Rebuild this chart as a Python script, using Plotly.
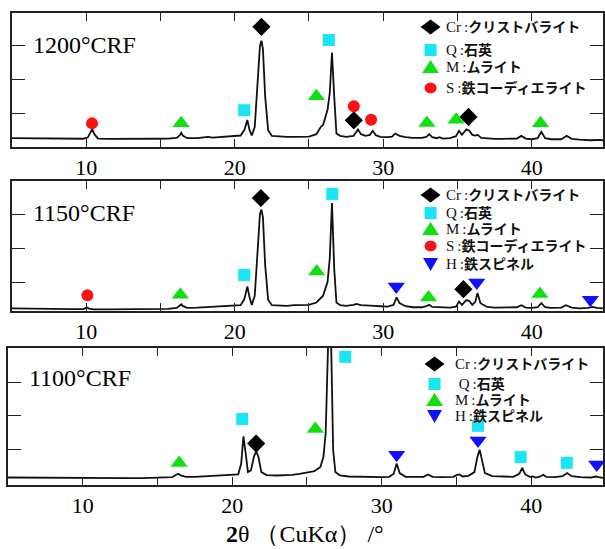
import plotly.graph_objects as go

# ---------------- data ----------------
# 2theta (deg) and intensity (arb. counts) for each firing temperature
tt_1200 = [5.0, 6, 7, 8, 9, 9.8, 10.1, 10.25, 10.4, 10.55, 10.8, 11.5, 12.5, 13.5, 14.5, 15.5,
           16.1, 16.3, 16.4, 16.5, 16.8, 17.5, 18.0, 18.2, 18.5, 19.0, 19.5, 20.0, 20.4, 20.65,
           20.85, 21.0, 21.15, 21.35, 21.55, 21.7, 21.8, 21.9, 22.05, 22.25, 22.5, 23.0, 23.5,
           24.0, 24.5, 25.0, 25.5, 25.8, 25.95, 26.1, 26.25, 26.4, 26.55, 26.7, 26.85, 27.1,
           27.5, 28.0, 28.15, 28.3, 28.5, 28.8, 29.1, 29.3, 29.5, 29.8, 30.3, 30.6, 30.8, 31.1,
           31.5, 32.0, 32.6, 32.9, 33.1, 33.3, 33.6, 33.8, 34.0, 34.5, 34.9, 35.1, 35.3, 35.45,
           35.6, 35.8, 36.0, 36.2, 36.35, 36.6, 37.0, 37.5, 38.0, 38.5, 39.0, 39.3, 39.6, 40.0,
           40.4, 40.65, 40.9, 41.3, 42.0, 42.35, 42.7, 43.2, 44.0, 44.5, 44.8]
i_1200 = [260, 255, 250, 245, 240, 245, 280, 400, 530, 380, 250, 240, 235, 240, 245, 250,
          270, 350, 420, 340, 260, 265, 280, 300, 280, 290, 300, 310, 340, 500,
          800, 500, 340, 600, 1800, 3000, 3150, 2900, 1500, 500, 330, 310, 300,
          300, 300, 310, 380, 600, 650, 900, 1100, 1600, 2800, 1500, 400, 330,
          300, 330, 420, 520, 380, 330, 360, 480, 350, 300, 290, 310, 400, 330,
          290, 270, 270, 300, 380, 290, 260, 290, 250, 260, 320, 480, 360, 430,
          520, 480, 360, 340, 360, 270, 250, 240, 240, 240, 250, 330, 250, 230,
          260, 450, 260, 230, 230, 330, 240, 220, 200, 210, 200]

tt_1150 = [5.0, 6, 7, 8, 9, 9.8, 10.05, 10.2, 10.5, 11.5, 12.5, 13.5, 14.5, 15.5, 16.1, 16.3,
           16.4, 16.5, 16.8, 17.5, 18.0, 18.5, 19.0, 19.5, 20.0, 20.4, 20.65, 20.85, 21.0,
           21.15, 21.35, 21.55, 21.7, 21.8, 21.9, 22.05, 22.25, 22.5, 23.0, 23.5, 24.0, 24.5,
           25.0, 25.5, 25.8, 25.95, 26.1, 26.25, 26.4, 26.55, 26.7, 26.85, 27.1, 27.5, 28.0,
           28.2, 28.5, 29.0, 29.4, 29.8, 30.3, 30.7, 30.9, 31.1, 31.5, 32.0, 32.6, 32.9, 33.1,
           33.3, 33.8, 34.5, 34.9, 35.1, 35.3, 35.45, 35.6, 35.8, 36.0, 36.2, 36.35, 36.55,
           37.0, 37.5, 38.0, 38.5, 39.0, 39.3, 39.6, 40.0, 40.4, 40.65, 40.9, 41.3, 42.0, 42.3,
           42.7, 43.2, 43.8, 44.1, 44.4, 44.8]
i_1150 = [230, 220, 215, 210, 205, 205, 250, 220, 200, 200, 200, 205, 210, 215, 240, 300,
          350, 300, 240, 250, 260, 270, 280, 290, 300, 320, 500, 870, 550,
          330, 600, 1800, 3000, 3130, 2900, 1500, 480, 320, 300, 300, 320, 320,
          330, 400, 550, 600, 800, 1000, 1700, 3320, 1400, 400, 320, 300, 330,
          360, 320, 300, 300, 290, 280, 330, 550, 380, 290, 260, 260, 290, 330,
          270, 260, 250, 280, 430, 330, 400, 470, 440, 330, 420, 680, 380,
          270, 250, 250, 250, 260, 320, 250, 240, 260, 380, 260, 240, 250, 320,
          250, 230, 240, 270, 240, 230]

tt_1100 = [5.0, 6, 7, 8, 9, 10, 11, 12, 13, 14, 15, 16.0, 16.25, 16.4, 16.55, 16.9, 17.5, 18.0,
           18.5, 19.0, 19.5, 20.0, 20.4, 20.6, 20.75, 20.9, 21.05, 21.25, 21.45, 21.6, 21.75,
           21.95, 22.3, 23.0, 23.5, 24.0, 24.5, 25.0, 25.5, 25.9, 26.1, 26.25, 26.4, 26.5, 26.6,
           26.75, 26.9, 27.2, 27.8, 28.5, 29.0, 29.5, 30.0, 30.5, 30.8, 31.0, 31.2, 31.6, 32.3,
           32.8, 33.1, 33.4, 34.0, 34.8, 35.0, 35.2, 35.4, 35.8, 36.2, 36.4, 36.55, 36.7, 36.9,
           37.4, 38.0, 38.8, 39.2, 39.4, 39.6, 39.9, 40.1, 40.3, 40.6, 40.8, 41.0, 41.6, 42.1,
           42.4, 42.7, 43.3, 44.0, 44.3, 44.5, 44.8]
i_1100 = [190, 185, 180, 175, 170, 165, 160, 165, 170, 175, 180, 200, 270, 300, 250, 210, 210, 220,
          230, 240, 250, 260, 280, 600, 1400, 900, 350, 400, 800, 960, 800,
          350, 260, 250, 250, 270, 300, 330, 380, 500, 800, 1500, 4500, 5500, 4500,
          1000, 350, 250, 220, 210, 200, 200, 200, 210, 300, 600, 320, 210, 200,
          210, 280, 210, 200, 210, 260, 280, 220, 240, 350, 800, 1010, 700, 320,
          230, 220, 210, 300, 470, 280, 210, 220, 190, 220, 270, 210, 200, 230,
          320, 230, 200, 190, 220, 200, 180]

# phase markers: (2theta, height)
cr_1200_x, cr_1200_y = [21.8, 28.02, 35.74], [3560, 790, 890]
q_1200_x, q_1200_y = [20.64, 26.34], [1090, 3170]
m_1200_x, m_1200_y = [16.39, 25.5, 32.94, 34.91, 40.59], [700, 1500, 710, 810, 700]
s_1200_x, s_1200_y = [10.39, 28.02, 29.18], [700, 1210, 810]

cr_1150_x, cr_1150_y = [21.76, 35.4], [3470, 790]
q_1150_x, q_1150_y = [20.64, 26.57], [1210, 3590]
m_1150_x, m_1150_y = [16.34, 25.52, 33.05, 40.55], [630, 1310, 550, 650]
s_1150_x, s_1150_y = [10.08], [610]
h_1150_x, h_1150_y = [30.88, 36.3, 43.95], [870, 990, 480]

cr_1100_x, cr_1100_y = [21.6], [1190]
q_1100_x, q_1100_y = [20.67, 27.56, 36.44, 39.29, 42.38], [1910, 3740, 1710, 790, 620]
m_1100_x, m_1100_y = [16.45, 25.56], [620, 1620]
h_1100_x, h_1100_y = [31.0, 36.44, 44.38], [860, 1280, 570]

sample_labels = ["1200\u00b0CRF", "1150\u00b0CRF", "1100\u00b0CRF"]
x_tickvals = [10, 15, 20, 25, 30, 35, 40]
x_ticktext = ["10", "", "20", "", "30", "", "40"]
y_tickvals = [1000, 2000, 3000]
x_title = "<b>2</b>\u03b8\u00a0\uff08CuK\u03b1\uff09\u00a0/\u00b0"

# legend entries: (symbol letter, Japanese phase name)
legend_1200 = [("Cr", "クリストバライト"), ("Q", "石英"), ("M", "ムライト"), ("S", "鉄コーディエライト")]
legend_1150 = [("Cr", "クリストバライト"), ("Q", "石英"), ("M", "ムライト"),
               ("S", "鉄コーディエライト"), ("H", "鉄スピネル")]
legend_1100 = [("Cr", "クリストバライト"), ("\u00a0Q", "石英"), ("M", "ムライト"), ("H", "鉄スピネル")]

# ---------------- styles ----------------
W, H = 605, 549
SERIF = "Liberation Serif, Times New Roman, serif"
LEGFONT = "Liberation Serif, Noto Sans CJK JP, serif"
phase_style = {
    "Cr": dict(symbol="diamond", color="black", size=14),
    "Q": dict(symbol="square", color="#19e6f5", size=12),
    "M": dict(symbol="triangle-up", color="#10e010", size=15),
    "S": dict(symbol="circle", color="#ff1010", size=12),
    "H": dict(symbol="triangle-down", color="#1010ff", size=15),
}
# legend symbol outlines in pixels (relative to the symbol centre, y up)
legend_paths = {
    "Cr": "M -10 0 L 0 7.5 L 10 0 L 0 -7.5 Z",
    "Q": "M -6 -6 L 6 -6 L 6 6 L -6 6 Z",
    "M": "M -8.5 -6 L 8.5 -6 L 0 7 Z",
    "S": "M -6 0 C -6 7 6 7 6 0 C 6 -7 -6 -7 -6 0 Z",
    "H": "M -7.5 6 L 7.5 6 L 0 -7 Z",
}

fig = go.Figure()

panels = [
    dict(tt=tt_1200, it=i_1200, label=sample_labels[0],
         marks=[("Cr", cr_1200_x, cr_1200_y), ("Q", q_1200_x, q_1200_y),
                ("M", m_1200_x, m_1200_y), ("S", s_1200_x, s_1200_y)],
         legend=legend_1200, leg_keys=["Cr", "Q", "M", "S"], leg_rows=[27, 50, 67, 88],
         leg_mx=432, leg_tx=446,
         xdom=[12 / W, 1.0], ydom=[1 - 147 / H, 1 - 13 / H], yr=[0, 3970],
         label_xy=(31, 45)),
    dict(tt=tt_1150, it=i_1150, label=sample_labels[1],
         marks=[("Cr", cr_1150_x, cr_1150_y), ("Q", q_1150_x, q_1150_y),
                ("M", m_1150_x, m_1150_y), ("S", s_1150_x, s_1150_y), ("H", h_1150_x, h_1150_y)],
         legend=legend_1150, leg_keys=["Cr", "Q", "M", "S", "H"],
         leg_rows=[195, 213, 229, 246, 264], leg_mx=432, leg_tx=446,
         xdom=[12 / W, 1.0], ydom=[1 - 311 / H, 1 - 181 / H], yr=[150, 3970],
         label_xy=(31, 213)),
    dict(tt=tt_1100, it=i_1100, label=sample_labels[2],
         marks=[("Cr", cr_1100_x, cr_1100_y), ("Q", q_1100_x, q_1100_y),
                ("M", m_1100_x, m_1100_y), ("H", h_1100_x, h_1100_y)],
         legend=legend_1100, leg_keys=["Cr", "Q", "M", "H"],
         leg_rows=[364, 384, 400, 416], leg_mx=436, leg_tx=456,
         xdom=[8 / W, 1.0], ydom=[1 - 485 / H, 1 - 348 / H], yr=[-30, 4000],
         label_xy=(27, 378)),
]

annotations = []
shapes = []
for k, p in enumerate(panels, start=1):
    xa = "x" if k == 1 else f"x{k}"
    ya = "y" if k == 1 else f"y{k}"
    fig.add_trace(go.Scatter(x=p["tt"], y=p["it"], mode="lines",
                             line=dict(color="#111111", width=1.8),
                             xaxis=xa, yaxis=ya, showlegend=False, hoverinfo="skip"))
    for key, mx, my in p["marks"]:
        st = phase_style[key]
        fig.add_trace(go.Scatter(x=mx, y=my, mode="markers",
                                 marker=dict(symbol=st["symbol"], color=st["color"], size=st["size"],
                                             line=dict(width=0)),
                                 xaxis=xa, yaxis=ya, showlegend=False))
    axis_common = dict(showline=True, linecolor="#222222", linewidth=1.6, mirror="ticks",
                       ticks="inside", tickcolor="#222222", tickwidth=1.4,
                       showgrid=False, zeroline=False)
    fig.update_layout({
        f"xaxis{'' if k == 1 else k}": dict(
            domain=p["xdom"], range=[5, 44.8], anchor=ya, tickvals=x_tickvals,
            ticktext=x_ticktext, ticklen=8,
            tickfont=dict(family=SERIF, size=22, color="black"), **axis_common),
        f"yaxis{'' if k == 1 else k}": dict(
            domain=p["ydom"], range=p["yr"], anchor=xa, tickvals=y_tickvals,
            showticklabels=False, ticklen=13, **axis_common),
    })
    lx, ly = p["label_xy"]
    annotations.append(dict(x=lx / W, y=1 - ly / H, xref="paper", yref="paper",
                            xanchor="left", yanchor="middle", showarrow=False,
                            text=p["label"], font=dict(family=SERIF, size=24, color="black")))
    for (abbr, name), key, row in zip(p["legend"], p["leg_keys"], p["leg_rows"]):
        st = phase_style[key]
        shapes.append(dict(type="path", xref="paper", yref="paper",
                           xsizemode="pixel", ysizemode="pixel",
                           xanchor=p["leg_mx"] / W, yanchor=1 - row / H,
                           path=legend_paths[key], fillcolor=st["color"],
                           line=dict(width=0), layer="above"))
        text = (f"<span style='font-size:15px;font-weight:normal'>{abbr}\u2009:</span>"
                f"<b>{name}</b>")
        annotations.append(dict(x=p["leg_tx"] / W, y=1 - row / H, xref="paper", yref="paper",
                                xanchor="left", yanchor="middle", showarrow=False,
                                text=text, borderpad=0,
                                font=dict(family=LEGFONT, size=14, color="#111111")))

annotations.append(dict(x=306 / W, y=1 - 534 / H, xref="paper", yref="paper",
                        xanchor="center", yanchor="middle", showarrow=False,
                        text=x_title, font=dict(family=SERIF, size=24, color="black")))

fig.update_layout(width=W, height=H, autosize=False,
                  margin=dict(l=0, r=0, t=0, b=0),
                  paper_bgcolor="white", plot_bgcolor="white",
                  showlegend=False, annotations=annotations, shapes=shapes)

fig.write_html("out.html", config={"displayModeBar": False},
               post_script="document.body.style.margin='0px';document.body.style.overflow='hidden';")
